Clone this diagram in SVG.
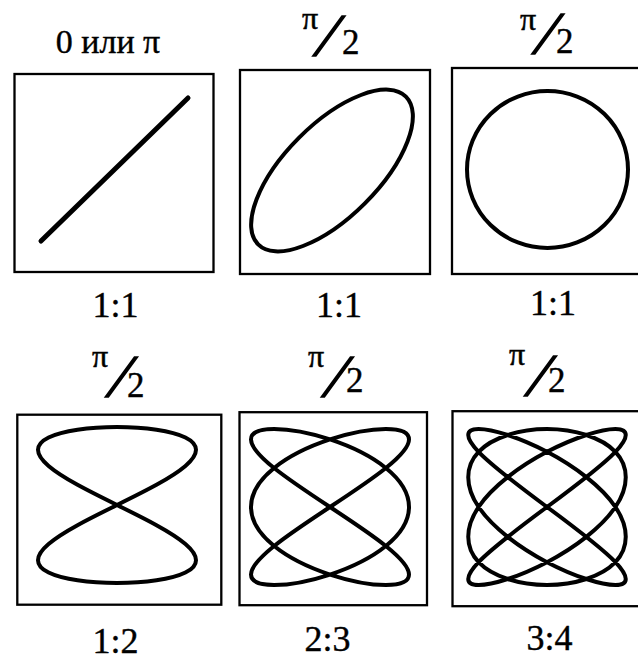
<svg xmlns="http://www.w3.org/2000/svg" width="638" height="661" viewBox="0 0 638 661">
<style>
.box{fill:none;stroke:#000;stroke-width:2.3}
.fig{fill:none;stroke:#000;stroke-width:4;stroke-linejoin:round;stroke-linecap:round}
.lbl{font-family:"Liberation Serif","Times New Roman",serif;fill:#000;stroke:#000;stroke-width:0.4;font-size:36px;text-anchor:middle}
.pi{font-family:"Liberation Serif","Times New Roman",serif;fill:#000;stroke:#000;stroke-width:0.5;font-size:32px}
.sl{font-family:"Liberation Serif","Times New Roman",serif;fill:#000;stroke:#000;stroke-width:1.6;font-size:62px;text-anchor:middle}
.two{font-family:"Liberation Serif","Times New Roman",serif;fill:#000;stroke:#000;stroke-width:0.4;font-size:35px}
</style>
<rect width="638" height="661" fill="#fff"/>
<g id="panel1">
<text class="lbl" x="108" y="53" style="font-size:34px">0 или π</text>
<rect class="box" x="14.5" y="74" width="199" height="198"/>
<line class="fig" x1="41" y1="241" x2="188" y2="98" style="stroke-width:5"/>
<text class="lbl" x="115.5" y="317">1:1</text>
</g>
<g id="panel2">
<text class="pi" x="302" y="29">π</text>
<text class="sl" x="329" y="56">⁄</text>
<text class="two" x="342" y="54">2</text>
<rect class="box" x="240" y="70" width="190" height="204"/>
<ellipse class="fig" cx="332" cy="170.5" rx="104.5" ry="46.5" transform="rotate(-45 332 170.5)"/>
<text class="lbl" x="339" y="317">1:1</text>
</g>
<g id="panel3">
<text class="pi" x="520" y="30">π</text>
<text class="sl" x="548" y="54">⁄</text>
<text class="two" x="556" y="53">2</text>
<rect class="box" x="452" y="68" width="200" height="206"/>
<ellipse class="fig" cx="547.5" cy="169.5" rx="80.5" ry="78.5"/>
<text class="lbl" x="553" y="315">1:1</text>
</g>
<g id="panel4">
<text class="pi" x="92" y="367">π</text>
<text class="sl" x="121.5" y="397">⁄</text>
<text class="two" x="127" y="397">2</text>
<rect class="box" x="17.3" y="414.7" width="204" height="190"/>
<path class="fig" d="M117,505 C130.79,498.19 144.56,491.38 156.5,484.81 S178.51,471.89 185.41,466 S196,454.66 196,449.85 S192.31,440.85 185.41,437.45 S168.44,431.42 156.5,429.66 S130.79,427 117,427 S89.44,427.9 77.5,429.66 S55.49,434.05 48.59,437.45 S38,445.04 38,449.85 S41.69,460.11 48.59,466 S65.56,478.24 77.5,484.81 S103.21,498.19 117,505 S144.56,518.62 156.5,525.19 S178.51,538.11 185.41,544 S196,555.34 196,560.15 S192.31,569.15 185.41,572.55 S168.44,578.58 156.5,580.34 S130.79,583 117,583 S89.44,582.1 77.5,580.34 S55.49,575.95 48.59,572.55 S38,564.96 38,560.15 S41.69,549.89 48.59,544 S65.56,531.76 77.5,525.19 S103.21,511.81 117,505 Z"/>
<text class="lbl" x="115.5" y="653">1:2</text>
</g>
<g id="panel5">
<text class="pi" x="308" y="367">π</text>
<text class="sl" x="337.5" y="397">⁄</text>
<text class="two" x="346" y="392">2</text>
<rect class="box" x="239.5" y="412.2" width="187.5" height="193"/>
<path class="fig" d="M330,507 C350.68,493.39 371.24,479.79 385.86,468 S409,446.26 409,439.45 S400.48,429 385.86,429 S350.68,432.64 330,439.45 S288.76,456.21 274.14,468 S251,493.39 251,507 S259.52,534.21 274.14,546 S309.32,567.74 330,574.55 S371.24,585 385.86,585 S409,581.36 409,574.55 S400.48,557.79 385.86,546 S350.68,520.61 330,507 S288.76,479.79 274.14,468 S251,446.26 251,439.45 S259.52,429 274.14,429 S309.32,432.64 330,439.45 S371.24,456.21 385.86,468 S409,493.39 409,507 S400.48,534.21 385.86,546 S350.68,567.74 330,574.55 S288.76,585 274.14,585 S251,581.36 251,574.55 S259.52,557.79 274.14,546 S309.32,520.61 330,507 Z"/>
<text class="lbl" x="327.5" y="651">2:3</text>
</g>
<g id="panel6">
<text class="pi" x="509" y="365">π</text>
<text class="sl" x="540.5" y="396">⁄</text>
<text class="two" x="548" y="392">2</text>
<rect class="box" x="452.5" y="411.2" width="200" height="195"/>
<path class="fig" d="M547,507 C574.58,486.58 601.62,466.29 615.41,451.85 S629.2,429 615.41,429 S574.58,437.41 547,451.85 S492.38,486.58 478.59,507 S464.8,547.71 478.59,562.15 S519.42,585 547,585 S601.62,576.59 615.41,562.15 S629.2,527.42 615.41,507 S574.58,466.29 547,451.85 S492.38,429 478.59,429 S464.8,437.41 478.59,451.85 S519.42,486.58 547,507 S601.62,547.71 615.41,562.15 S629.2,585 615.41,585 S574.58,576.59 547,562.15 S492.38,527.42 478.59,507 S464.8,466.29 478.59,451.85 S519.42,429 547,429 S601.62,437.41 615.41,451.85 S629.2,486.58 615.41,507 S574.58,547.71 547,562.15 S492.38,585 478.59,585 S464.8,576.59 478.59,562.15 S519.42,527.42 547,507 Z"/>
<text class="lbl" x="549.5" y="650">3:4</text>
</g>
</svg>
